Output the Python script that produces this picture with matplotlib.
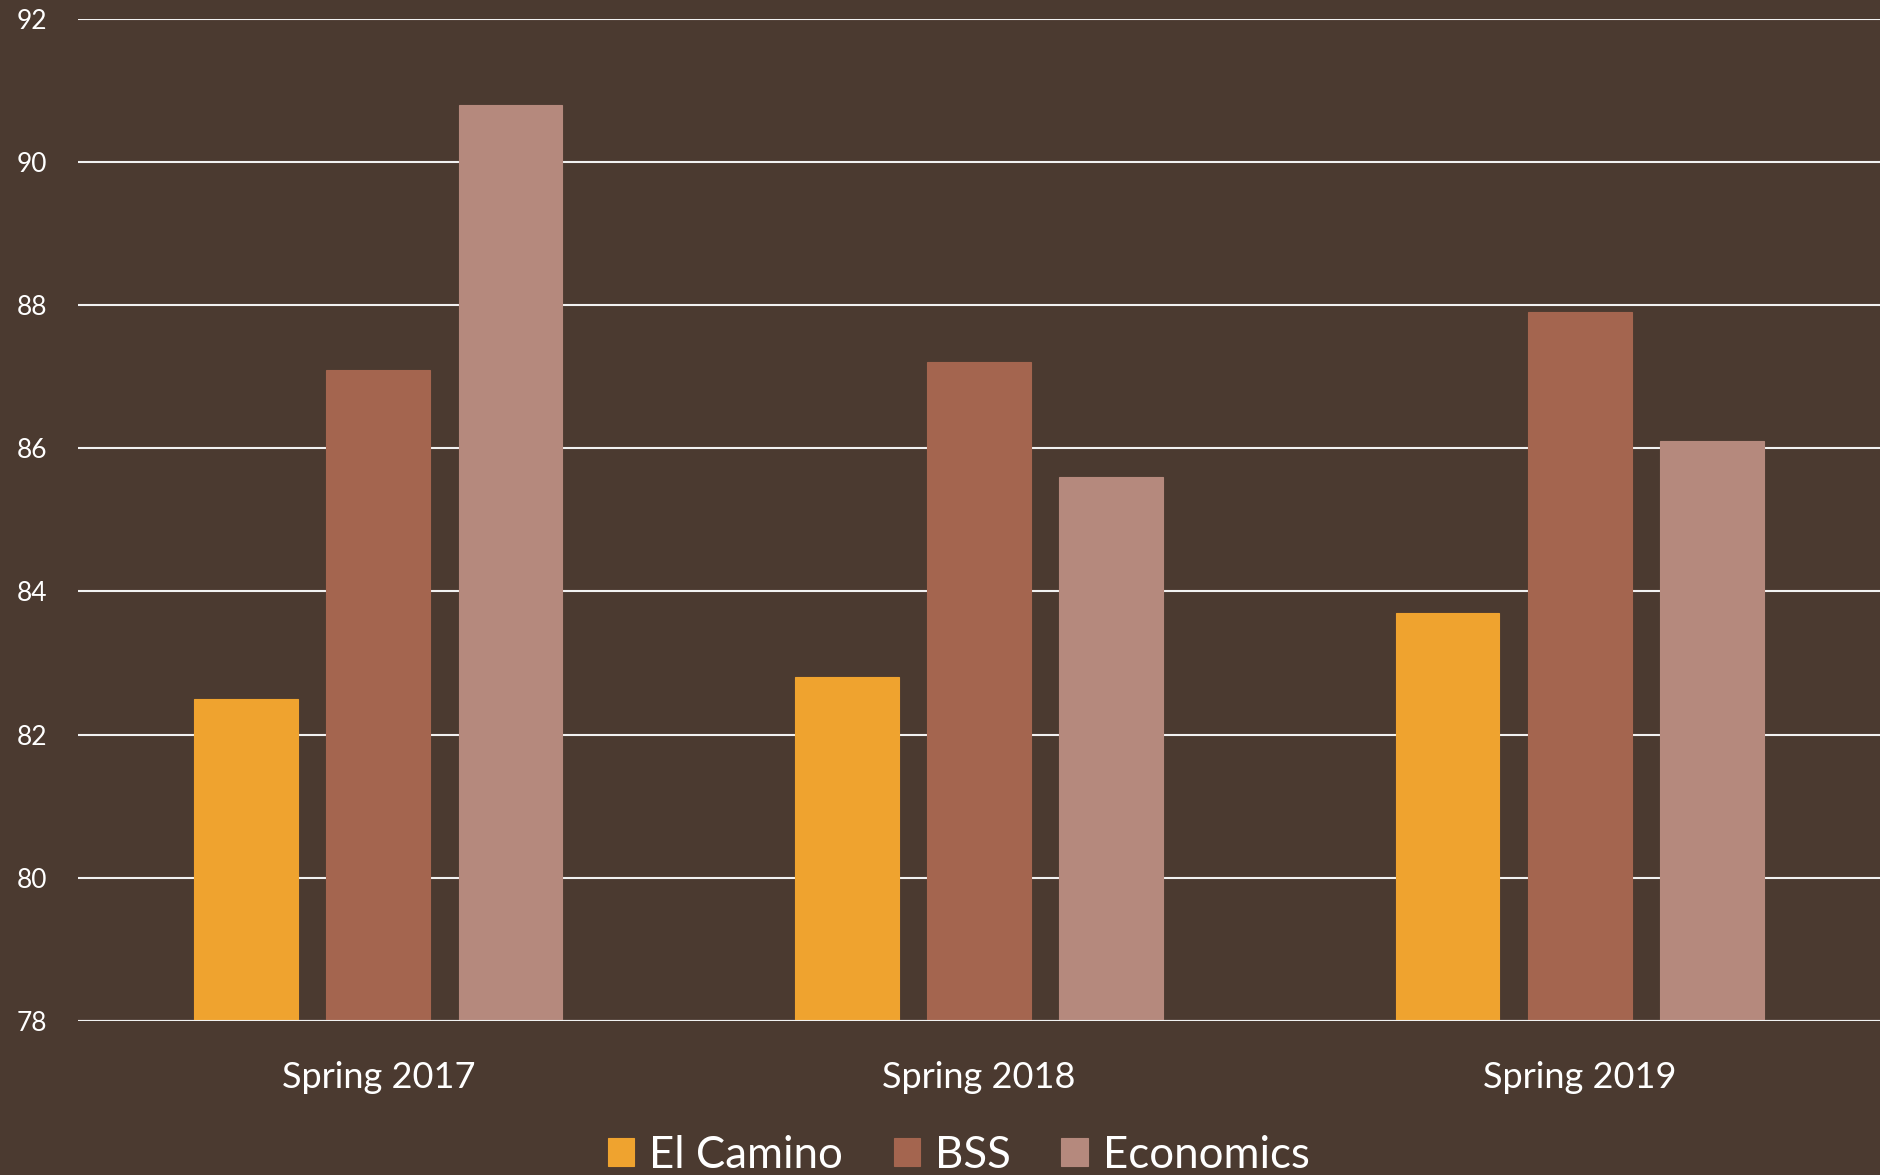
import numpy as np
import matplotlib.pyplot as plt

categories = ['Spring 2017', 'Spring 2018', 'Spring 2019']
el_camino = [82.5, 82.8, 83.7]
bss = [87.1, 87.2, 87.9]
economics = [90.8, 85.6, 86.1]
series = ['El Camino', 'BSS', 'Economics']
colors = ['#EFA32F', '#A4654F', '#B5897D']

bg = '#4B3A30'
plt.rcParams['font.family'] = ['Lato', 'DejaVu Sans']

fig = plt.figure(figsize=(18.8, 11.75), dpi=100, facecolor=bg)
ax = fig.add_axes([0.0415, 0.1313, 0.9585, 0.8525])
ax.set_facecolor(bg)

x = np.arange(len(categories))
w = 0.173
step = 0.22
for i, (vals, name, c) in enumerate(zip([el_camino, bss, economics], series, colors)):
    ax.bar(x + (i - 1) * step, vals, width=w, bottom=0, color=c, label=name,
           zorder=3, edgecolor=c, linewidth=0.8)

ax.set_ylim(78, 92)
ax.set_xlim(-0.5, 2.5)
ax.set_yticks(range(78, 93, 2))
ax.yaxis.grid(True, color='#F2F2F2', linewidth=1.5, zorder=1)
ax.set_axisbelow(True)
for s in ax.spines.values():
    s.set_visible(False)
ax.axhline(78, color='#F2F2F2', linewidth=1.5, zorder=4)
ax.set_xticks(x)
ax.set_xticklabels(categories)
ax.tick_params(axis='x', length=0, pad=29, labelsize=26, colors='white')
ax.tick_params(axis='y', length=0, pad=22, labelsize=19, colors='white')

fig.legend(loc='center', bbox_to_anchor=(0.51, 1 - 1155 / 1175), ncol=3,
           frameon=False, fontsize=31.5, labelcolor='white', handlelength=0.6,
           handleheight=0.6, handletextpad=0.35, columnspacing=1.15)

fig.savefig('out.png', dpi=100, facecolor=bg)
